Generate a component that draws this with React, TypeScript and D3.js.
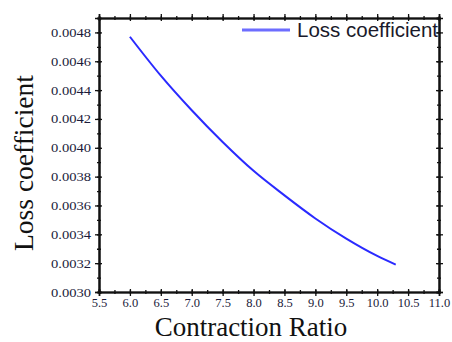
import React, { useEffect, useRef } from 'react';
import * as d3 from 'd3';

// Contraction ratio vs loss coefficient
const ratios = [6.0, 6.5, 7.0, 7.5, 8.0, 8.5, 9.0, 9.5, 10.0, 10.3];
const lossValues = [0.00477, 0.0045, 0.00426, 0.00404, 0.00384, 0.00367, 0.00351, 0.00337, 0.00325, 0.00319];

const xTicks = [5.5, 6.0, 6.5, 7.0, 7.5, 8.0, 8.5, 9.0, 9.5, 10.0, 10.5, 11.0];
const yTicks = [0.003, 0.0032, 0.0034, 0.0036, 0.0038, 0.004, 0.0042, 0.0044, 0.0046, 0.0048];
const seriesName = 'Loss coefficient';

const width = 452;
const height = 342;
const serif = '"Liberation Serif", "Times New Roman", serif';

export default function App() {
  const svgRef = useRef<SVGSVGElement>(null);

  useEffect(() => {
    const svgElement = svgRef.current;
    if (!svgElement) return;
    const svg = d3.select(svgElement);
    svg.selectAll('*').remove();

    const margin = { top: 18, right: 13, bottom: 50, left: 99 };
    const innerWidth = width - margin.left - margin.right;
    const innerHeight = height - margin.top - margin.bottom;

    const xScale = d3.scaleLinear().domain([5.5, 11.0]).range([0, innerWidth]);
    const yScale = d3.scaleLinear().domain([0.003, 0.0049]).range([innerHeight, 0]);

    const g = svg.append('g').attr('transform', `translate(${margin.left}, ${margin.top})`);

    const xMinor = d3.range(5.5, 11.01, 0.25);
    const yMinor = d3.range(0.003, 0.00491, 0.0001);

    const styleAxis = (sel: any) => {
      sel.selectAll('.domain').attr('stroke', '#111').attr('stroke-width', 1.6);
      sel.selectAll('.tick line').attr('stroke', '#111').attr('stroke-width', 1.3);
      sel.selectAll('text')
        .attr('fill', '#1b1b3a')
        .style('font-family', serif)
        .style('font-size', '12.5px');
    };
    const noLabels = (sel: any) => {
      sel.selectAll('text').remove();
      styleAxis(sel);
    };

    // ticks cross the frame: draw an outer and an inner set on each side
    const frame = (make: () => any, transform: string, values: number[], out: number, inn: number) => {
      g.append('g').attr('transform', transform)
        .call(make().tickValues(values).tickSize(out)).call(noLabels);
      g.append('g').attr('transform', transform)
        .call(make().tickValues(values).tickSize(-inn)).call(noLabels);
    };

    const bottomT = `translate(0, ${innerHeight})`;
    const rightT = `translate(${innerWidth}, 0)`;
    const bottom = () => d3.axisBottom(xScale);
    const top = () => d3.axisTop(xScale);
    const left = () => d3.axisLeft(yScale);
    const right = () => d3.axisRight(yScale);
    frame(bottom, bottomT, xMinor, 2, 2);
    frame(bottom, bottomT, xTicks, 4, 3);
    frame(top, 'translate(0,0)', xMinor, 2, 2);
    frame(top, 'translate(0,0)', xTicks, 4, 3);
    frame(left, 'translate(0,0)', yMinor, 2, 2);
    frame(left, 'translate(0,0)', yTicks, 4, 3);
    frame(right, rightT, yMinor, 2, 2);
    frame(right, rightT, yTicks, 4, 3);

    // tick labels
    g.append('g')
      .attr('transform', bottomT)
      .call(d3.axisBottom(xScale).tickValues(xTicks).tickSize(0).tickPadding(6).tickFormat(d => (d as number).toFixed(1)))
      .call(styleAxis)
      .call(s => s.select('.domain').remove());

    g.append('g')
      .call(d3.axisLeft(yScale).tickValues(yTicks).tickSize(0).tickPadding(8).tickFormat(d => (d as number).toFixed(4)))
      .call(styleAxis)
      .call(s => s.select('.domain').remove())
      .selectAll('text')
      .attr('textLength', 40)
      .attr('lengthAdjust', 'spacingAndGlyphs');

    // curve
    const line = d3
      .line<number>()
      .x((_, i) => xScale(ratios[i]))
      .y(d => yScale(d))
      .curve(d3.curveMonotoneX);

    g.append('path')
      .datum(lossValues)
      .attr('fill', 'none')
      .attr('stroke', '#2a2aff')
      .attr('stroke-width', 2)
      .attr('d', line);

    // legend
    g.append('line')
      .attr('x1', 143)
      .attr('x2', 191)
      .attr('y1', 12)
      .attr('y2', 12)
      .attr('stroke', '#6d6dff')
      .attr('stroke-width', 3);
    g.append('text')
      .attr('x', 339)
      .attr('y', 19)
      .attr('text-anchor', 'end')
      .attr('fill', '#1a1a2a')
      .style('font-family', '"Liberation Sans", Arial, sans-serif')
      .style('font-size', '20.5px')
      .text(seriesName);

    // axis titles
    svg.append('text')
      .attr('x', 251)
      .attr('y', 335.5)
      .attr('text-anchor', 'middle')
      .attr('fill', '#111')
      .style('font-family', serif)
      .style('font-size', '27px')
      .text('Contraction Ratio');

    svg.append('text')
      .attr('transform', `translate(33, 163) rotate(-90)`)
      .attr('text-anchor', 'middle')
      .attr('fill', '#111')
      .style('font-family', serif)
      .style('font-size', '27.5px')
      .text('Loss coefficient');
  }, []);

  return (
    <svg
      ref={svgRef}
      width={width}
      height={height}
      style={{ position: 'absolute', left: 0, top: 0, background: '#fff' }}
    />
  );
}
